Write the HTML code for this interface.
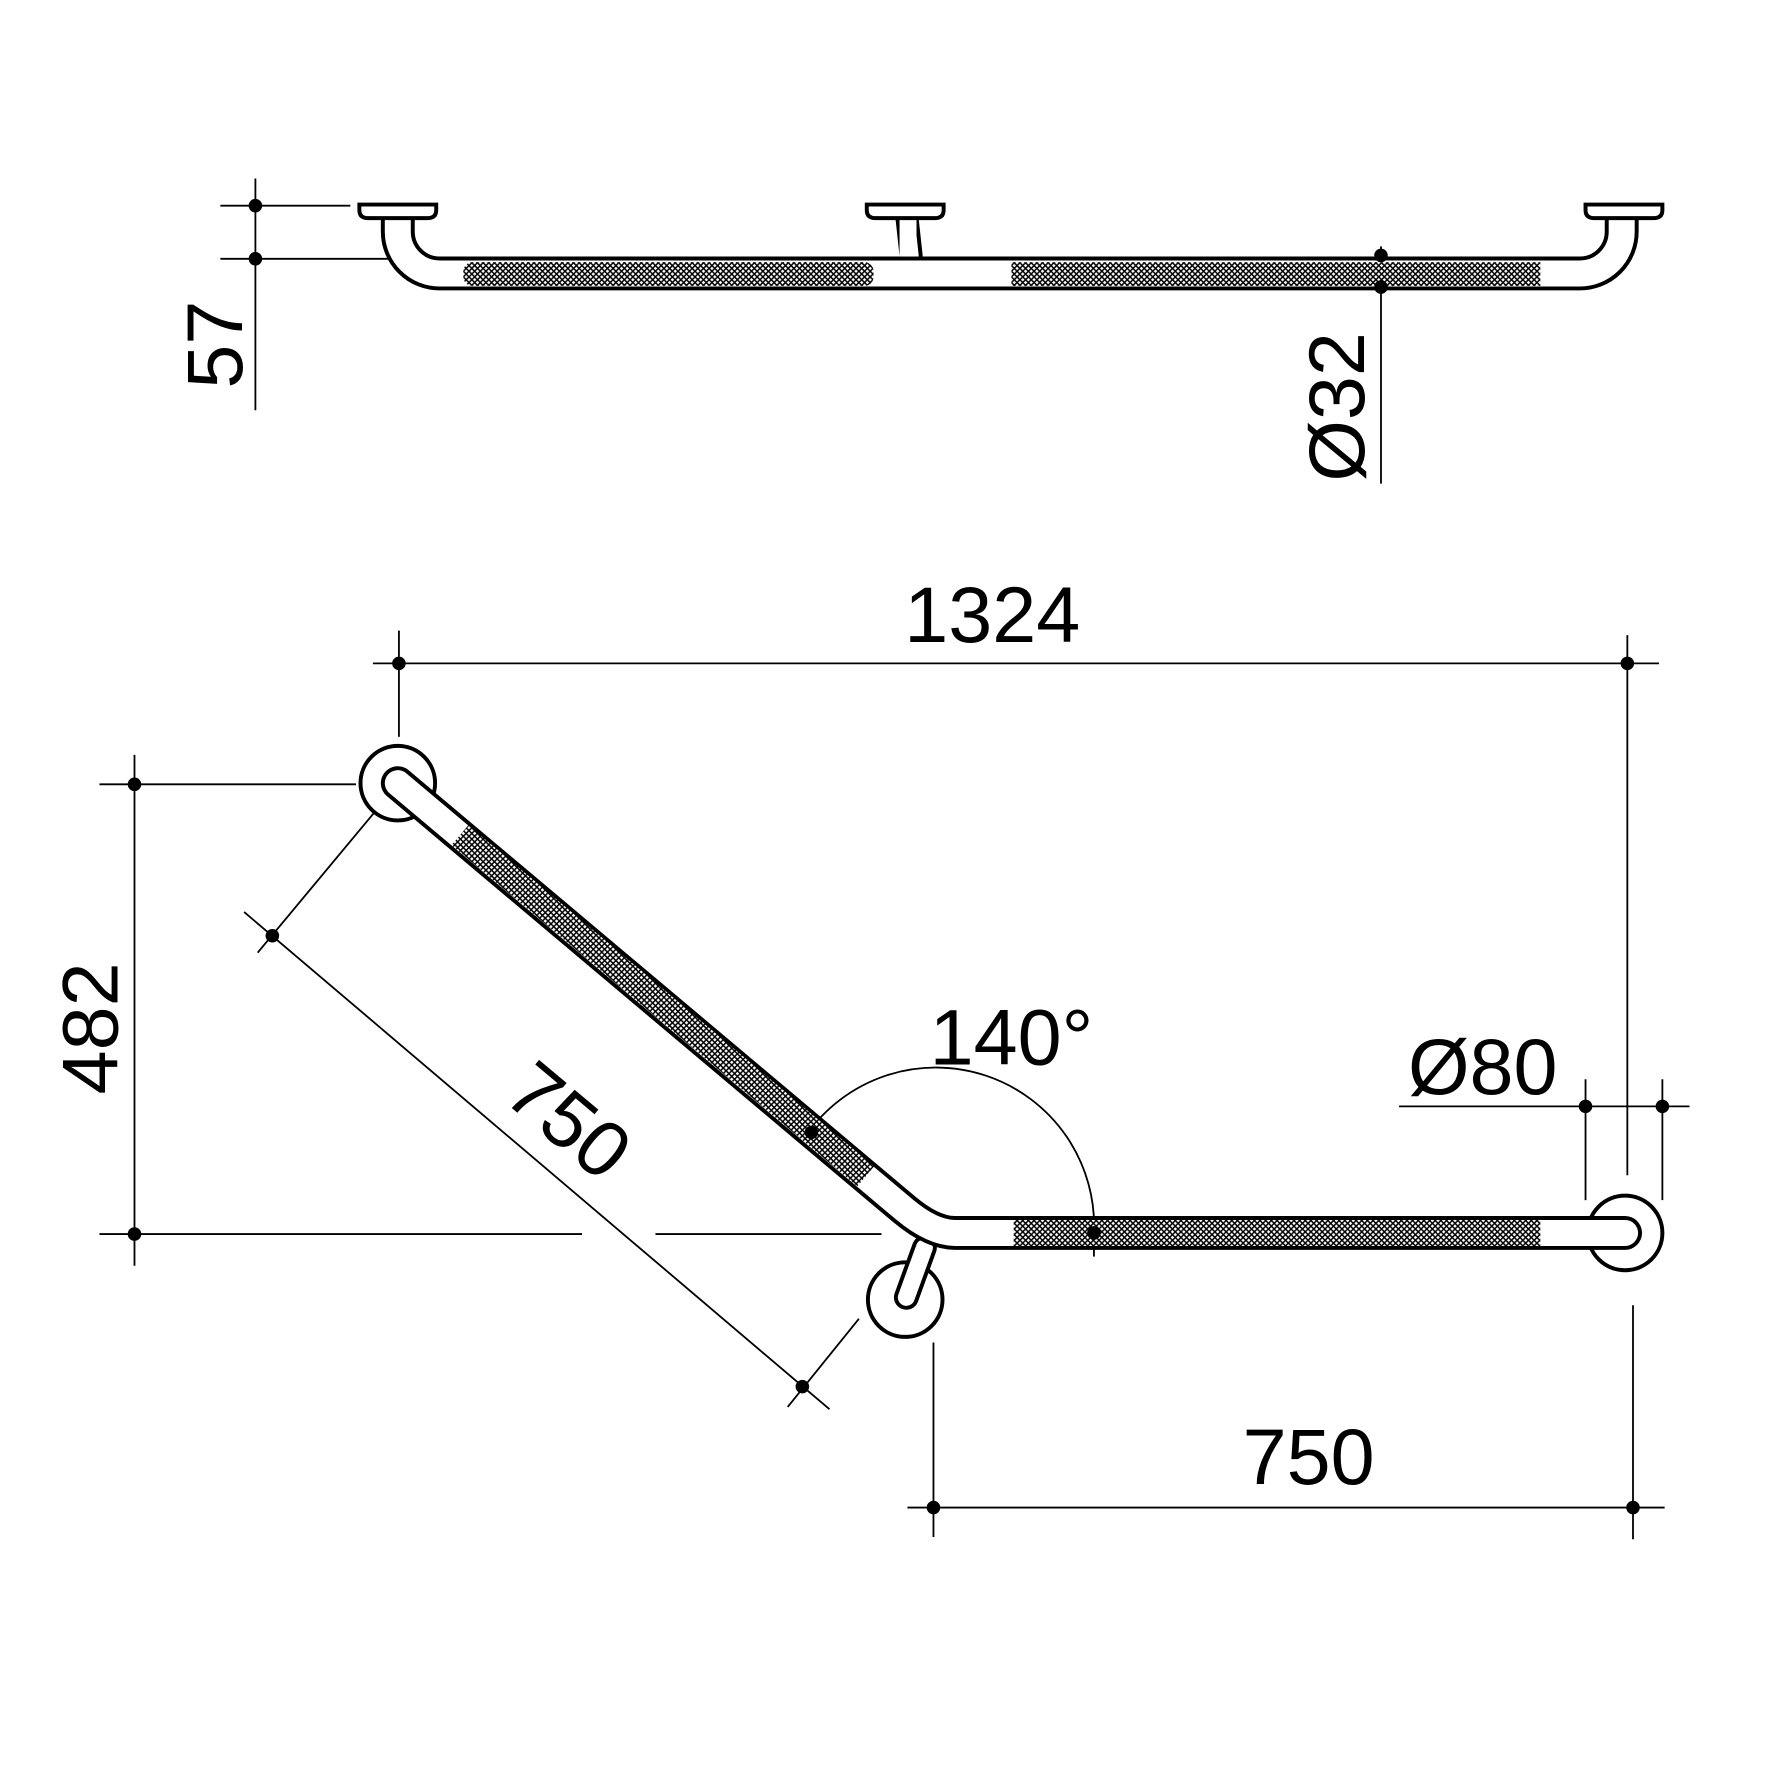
<!DOCTYPE html>
<html><head><meta charset="utf-8"><style>
html,body{margin:0;padding:0;background:#fff}
svg{display:block}
text{font-family:"Liberation Sans",Arial,sans-serif;fill:#000}
</style></head><body>
<svg width="1772" height="1772" viewBox="0 0 1568 1568" xmlns="http://www.w3.org/2000/svg">
<defs>
<pattern id="h" width="5" height="5" patternUnits="userSpaceOnUse">
<rect width="5" height="5" fill="#fff"/>
<path d="M0,0L5,5M5,0L0,5" stroke="#000" stroke-width="1.3"/>
</pattern>
</defs>
<g stroke="#000" stroke-width="1.6" fill="none">
<line x1="226" y1="158" x2="226" y2="363"/>
<line x1="195" y1="182" x2="310" y2="182"/>
<line x1="195" y1="229" x2="360" y2="229"/>
<line x1="1222" y1="218" x2="1222" y2="428"/>
<line x1="330" y1="587" x2="1468" y2="587"/>
<line x1="353" y1="558" x2="353" y2="652"/>
<line x1="1440" y1="562" x2="1440" y2="1040"/>
<line x1="119" y1="668" x2="119" y2="1120"/>
<line x1="88" y1="694" x2="315" y2="694"/>
<line x1="88" y1="1092" x2="515" y2="1092"/>
<line x1="580" y1="1092" x2="780" y2="1092"/>
<line x1="228" y1="843" x2="332" y2="718"/>
<line x1="216" y1="807" x2="734" y2="1247"/>
<line x1="697" y1="1245" x2="760" y2="1167"/>
<line x1="1238" y1="979" x2="1495" y2="979"/>
<line x1="1403" y1="955" x2="1403" y2="1062"/>
<line x1="1471" y1="955" x2="1471" y2="1062"/>
<line x1="803" y1="1334" x2="1473" y2="1334"/>
<line x1="826" y1="1188" x2="826" y2="1360"/>
<line x1="1445" y1="1155" x2="1445" y2="1362"/>
<path d="M713,1005 A140,140 0 0 1 968,1091 V1112"/>
</g>
<path d="M352,190 V205 A37,37 0 0 0 389,242 H1398 A37,37 0 0 0 1435,205 V190" stroke="#000" stroke-width="30" fill="none"/>
<path d="M352,190 V205 A37,37 0 0 0 389,242 H1398 A37,37 0 0 0 1435,205 V190" stroke="#fff" stroke-width="23" fill="none"/>
<rect x="410" y="232" width="363" height="21" rx="8" fill="url(#h)"/>
<rect x="895" y="232" width="468" height="21" fill="url(#h)"/>
<path d="M794,192 L798,229 M811,192 L815,229" stroke="#000" stroke-width="3.5" fill="none"/>
<rect x="796" y="192" width="15" height="35" fill="#fff"/>
<g fill="#fff" stroke="#000" stroke-width="3.5">
<path d="M318,181 H386 V186 Q386,193 378,193 H326 Q318,193 318,186 Z"/>
<path d="M767,181 H835 V186 Q835,193 827,193 H775 Q767,193 767,186 Z"/>
<path d="M1403,181 H1471 V186 Q1471,193 1463,193 H1411 Q1403,193 1403,186 Z"/>
</g>
<g fill="#fff" stroke="#000" stroke-width="3.5">
<circle cx="352" cy="693" r="33"/>
<circle cx="1438" cy="1091" r="33"/>
<circle cx="801" cy="1150" r="33"/>
</g>
<path d="M802,1148 L818,1104" stroke="#000" stroke-width="22" stroke-linecap="round"/>
<path d="M802,1148 L818,1104" stroke="#fff" stroke-width="15" stroke-linecap="round"/>
<path d="M352,693 L800,1070 Q825,1091 845,1091 H1438" stroke="#000" stroke-width="30" stroke-linecap="round" stroke-linejoin="round" fill="none"/>
<path d="M352,693 L800,1070 Q825,1091 845,1091 H1438" stroke="#fff" stroke-width="23" stroke-linecap="round" stroke-linejoin="round" fill="none"/>
<line x1="407" y1="739" x2="766" y2="1041" stroke="url(#h)" stroke-width="23"/>
<line x1="897" y1="1091" x2="1363" y2="1091" stroke="url(#h)" stroke-width="23"/>
<g fill="#000">
<circle cx="226" cy="182" r="6"/><circle cx="226" cy="229" r="6"/>
<circle cx="1222" cy="226" r="6"/><circle cx="1222" cy="254" r="6"/>
<circle cx="353" cy="587" r="6"/><circle cx="1440" cy="587" r="6"/>
<circle cx="119" cy="694" r="6"/><circle cx="119" cy="1092" r="6"/>
<circle cx="241" cy="828" r="6"/><circle cx="710" cy="1227" r="6"/>
<circle cx="718" cy="1002" r="6"/><circle cx="968" cy="1091" r="6"/>
<circle cx="1403" cy="979" r="6"/><circle cx="1471" cy="979" r="6"/>
<circle cx="826" cy="1334" r="6"/><circle cx="1445" cy="1334" r="6"/>
</g>
<g font-size="70" text-anchor="middle">
<text transform="translate(214,305) rotate(-90)">57</text>
<text transform="translate(1207,360) rotate(-90)">Ø32</text>
<text x="878" y="568">1324</text>
<text transform="translate(104,910) rotate(-90)">482</text>
<text transform="translate(488,1010) rotate(40)">750</text>
<text x="895" y="942">140°</text>
<text x="1312" y="968">Ø80</text>
<text x="1158" y="1313">750</text>
</g>
</svg>
</body></html>
